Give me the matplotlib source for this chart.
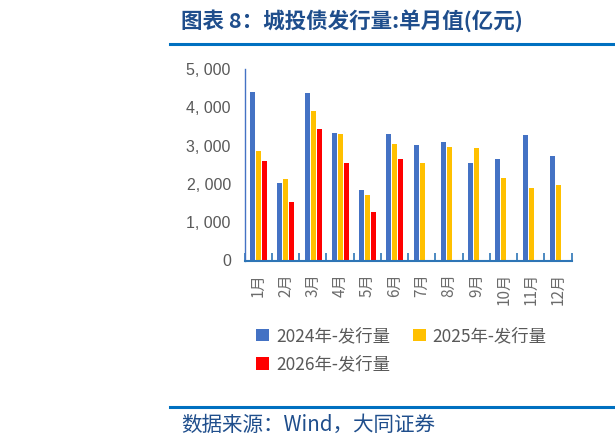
import matplotlib
matplotlib.use("Agg")
import matplotlib.pyplot as plt
from matplotlib.lines import Line2D
from matplotlib.patches import Patch
import numpy as np

plt.rcParams['font.family'] = ['Noto Sans CJK SC', 'DejaVu Sans']

months = ['1月', '2月', '3月', '4月', '5月', '6月', '7月', '8月', '9月', '10月', '11月', '12月']
s2024 = [4390, 2030, 4375, 3320, 1850, 3310, 3005, 3085, 2545, 2640, 3285, 2730]
s2025 = [2860, 2135, 3900, 3295, 1700, 3035, 2535, 2955, 2945, 2145, 1885, 1970]
s2026 = [2600, 1530, 3440, 2545, 1265, 2650]
series_names = ['2024年-发行量', '2025年-发行量', '2026年-发行量']
colors = ['#4472C4', '#FFC000', '#FF0000']
yticks = [0, 1000, 2000, 3000, 4000, 5000]

W, H = 615, 446
fig = plt.figure(figsize=(W / 100, H / 100), dpi=100)
ax = fig.add_axes([244.7 / W, 1 - 260.5 / H, (571.7 - 244.7) / W, (260.5 - 69) / H])

x = np.arange(len(months))
bw = 0.18
offs = [-0.21, 0.01, 0.23]
ax.bar(x + offs[0], s2024, bw, color=colors[0], label=series_names[0])
ax.bar(x + offs[1], s2025, bw, color=colors[1], label=series_names[1])
ax.bar(np.arange(len(s2026)) + offs[2], s2026, bw, color=colors[2], label=series_names[2])

ax.set_xlim(-0.5, len(months) - 0.5)
ax.set_ylim(0, 5000)
for s in ['top', 'right']:
    ax.spines[s].set_visible(False)
ax.spines['bottom'].set_color('#2E75B6')
ax.spines['bottom'].set_linewidth(1.5)
ax.spines['left'].set_color('#4472C4')
ax.spines['left'].set_linewidth(1.0)

ax.set_yticks(yticks)
ax.set_yticklabels([f"{v:,}".replace(',', ', ') for v in yticks],
                   fontsize=11.5, color='#595959', family=['Liberation Sans', 'DejaVu Sans'])
ax.tick_params(axis='y', length=0, pad=10)
ax.set_yticks([5000], minor=True)
ax.tick_params(axis='y', which='minor', direction='in', length=6, color='#4472C4', width=1.0)

ax.set_xticks(x)
ax.set_xticklabels(months, rotation=90, fontsize=11, color='#6b6b6b')
ax.tick_params(axis='x', length=0, pad=9)
ax.set_xticks(np.arange(-0.5, len(months)), minor=True)
ax.tick_params(axis='x', which='minor', direction='in', length=6, color='#2E75B6', width=1.2)

# legend: row-wise order (2024, 2025 / 2026)
order = [0, 2, 1]
handles = [Patch(facecolor=colors[i], edgecolor='none') for i in order]
labels = [series_names[i] for i in order]
fig.legend(handles, labels, loc='upper left', bbox_to_anchor=(256 / W, 1 - 327 / H),
           ncol=2, frameon=False, fontsize=12.5, borderpad=0, handlelength=0.75, handleheight=0.75,
           handletextpad=0.4, columnspacing=1.3, labelspacing=0.6, labelcolor='#595959',
           borderaxespad=0)

# title and rules
fig.text(181 / W, 1 - 21 / H, '图表 8：城投债发行量:单月值(亿元)', fontsize=15.5, fontweight='bold',
         color='#1F4E8C', va='center', ha='left')
fig.add_artist(Line2D([170 / W, 1], [1 - 43.5 / H, 1 - 43.5 / H], color='#0070C0', lw=2.2))
fig.add_artist(Line2D([170 / W, 1], [1 - 406.5 / H, 1 - 406.5 / H], color='#0070C0', lw=2.2))
fig.text(181 / W, 1 - 425 / H, '数据来源：Wind，大同证券', fontsize=14.8,
         color='#1F4E8C', va='center', ha='left')

fig.savefig('out.png', dpi=100)
